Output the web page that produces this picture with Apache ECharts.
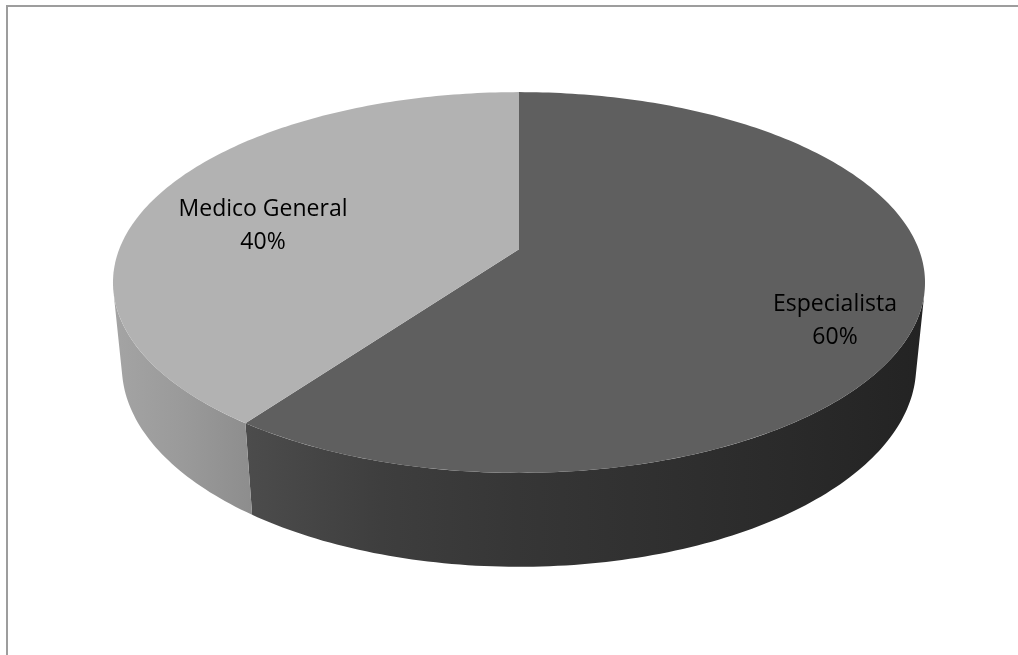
<!DOCTYPE html>
<html>
<head>
<meta charset="utf-8">
<title>Especialista / Medico General</title>
<script src="https://cdn.jsdelivr.net/npm/echarts@6/dist/echarts.min.js"></script>
<style>
  html, body { margin: 0; padding: 0; background: #ffffff; }
  #chart { width: 1018px; height: 655px; }
</style>
</head>
<body>
<div id="chart"></div>
<script>
// Slices, in drawing order, clockwise from twelve o'clock
const categories = ['Especialista', 'Medico General'];
const shares = [60, 40];

// Appearance of each slice: top face colour and side-wall shading (left to right)
const topColors = ['#5f5f5f', '#b2b2b2'];
const wallStops = [
  ['#4c4c4c', '#3e3e3e', '#363636', '#303030', '#2a2a2a', '#232323'],
  ['#a4a4a4', '#9a9a9a', '#8d8d8d']
];
// Label anchors (pixel centre of each two-line label)
const labelAnchors = [[835, 321], [263, 226]];

// Perspective view of the disc
const view = {
  cx: 519, cy: 249.3,   // projected centre of the top face
  scale: 399.8,         // focal length * radius / distance
  elev: 27.5 * Math.PI / 180, // camera elevation above the disc plane
  near: 0.1966,         // radius / camera distance
  depth: 0.238          // disc thickness, in radii
};

function project(thetaDeg, r, z) {
  const t = thetaDeg * Math.PI / 180;
  const u = r * Math.sin(t), v = r * Math.cos(t);
  const sa = Math.sin(view.elev), ca = Math.cos(view.elev);
  const den = 1 + view.near * (v * ca - z * sa);
  return [view.cx + view.scale * u / den, view.cy - view.scale * (v * sa + z * ca) / den];
}

// Side walls face the camera where cos(theta) < -near / cos(elev)
const wallFrom = Math.acos(-view.near / Math.cos(view.elev)) * 180 / Math.PI;
const wallTo = 360 - wallFrom;

const total = shares.reduce((a, b) => a + b, 0);
let acc = 0;
const sliceData = shares.map((v, i) => {
  const a = acc / total * 360;
  acc += v;
  const b = acc / total * 360;
  return { name: categories[i], value: [a, b, v] };
});

function arc(a, b, r, z) {
  const pts = [];
  const n = Math.max(2, Math.ceil(Math.abs(b - a)));
  for (let k = 0; k <= n; k++) pts.push(project(a + (b - a) * k / n, r, z));
  return pts;
}

function renderItem(params, api) {
  const i = params.dataIndex;
  const a = api.value(0), b = api.value(1), v = api.value(2);
  const children = [];

  // visible part of the side wall
  const wa = Math.max(a, wallFrom), wb = Math.min(b, wallTo);
  if (wb > wa) {
    const top = arc(wa, wb, 1, 0);
    const bottom = arc(wb, wa, 1, -view.depth);
    const pts = top.concat(bottom);
    let minX = Infinity, maxX = -Infinity;
    pts.forEach(p => { minX = Math.min(minX, p[0]); maxX = Math.max(maxX, p[0]); });
    const stops = wallStops[i].map((c, k, arr) => ({ offset: k / (arr.length - 1), color: c }));
    children.push({
      type: 'polygon',
      z2: 1,
      shape: { points: pts },
      style: { fill: new echarts.graphic.LinearGradient(minX, 0, maxX, 0, stops, true) }
    });
  }

  // top face
  const centre = project(0, 0, 0);
  children.push({
    type: 'polygon',
    z2: 2,
    shape: { points: [centre].concat(arc(a, b, 1, 0)) },
    style: { fill: topColors[i] }
  });

  // label: category and share
  const pct = Math.round(v / total * 100) + '%';
  children.push({
    type: 'text',
    z2: 3,
    x: labelAnchors[i][0],
    y: labelAnchors[i][1],
    style: {
      text: categories[i] + '\n' + pct,
      fill: '#000000',
      font: '23px "Open Sans"',
      lineHeight: 33,
      align: 'center',
      verticalAlign: 'middle'
    }
  });

  return { type: 'group', children };
}

const chart = echarts.init(document.getElementById('chart'), null, { renderer: 'canvas' });
chart.setOption({
  backgroundColor: '#ffffff',
  animation: false,
  graphic: [{
    // frame: only the top and left edges fall inside the canvas
    type: 'polyline',
    shape: { points: [[7, 700], [7, 6], [1040, 6]] },
    style: { fill: null, stroke: '#9d9d9d', lineWidth: 2 },
    silent: true
  }],
  series: [{
    type: 'custom',
    coordinateSystem: 'none',
    renderItem: renderItem,
    data: sliceData,
    silent: true
  }]
});
</script>
</body>
</html>
